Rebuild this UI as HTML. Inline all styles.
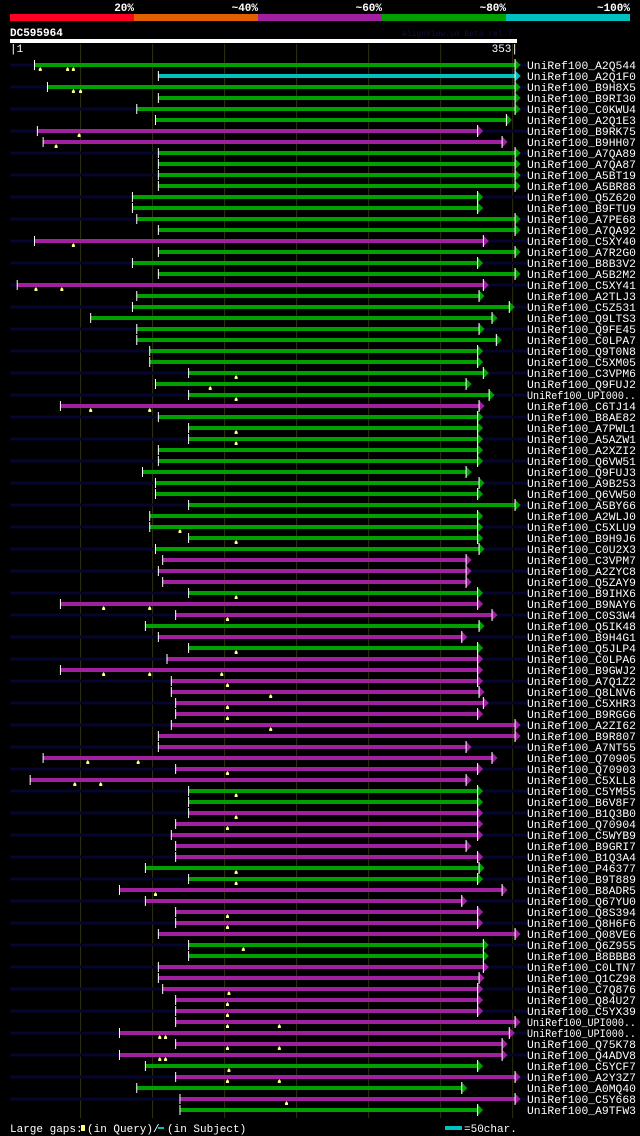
<!DOCTYPE html>
<html><head><meta charset="utf-8"><style>
html,body{margin:0;padding:0;background:#000;}
svg{display:block;}
text{font-family:"Liberation Mono","DejaVu Sans Mono",monospace;fill:#fff;}
</style></head>
<body>
<svg id="chart" width="640" height="1136" viewBox="0 0 640 1136" xmlns="http://www.w3.org/2000/svg">
<rect x="0" y="0" width="640" height="1136" fill="#000"/>
<g id="header">
<rect x="10" y="14" width="124" height="7" fill="#ff0020"/>
<rect x="134" y="14" width="124" height="7" fill="#e06000"/>
<rect x="258" y="14" width="124" height="7" fill="#a020a0"/>
<rect x="382" y="14" width="124" height="7" fill="#00a000"/>
<rect x="506" y="14" width="124" height="7" fill="#00c0c0"/>
<text x="134" y="11" font-size="11" font-weight="bold" text-anchor="end">20%</text>
<text x="258" y="11" font-size="11" font-weight="bold" text-anchor="end">~40%</text>
<text x="382" y="11" font-size="11" font-weight="bold" text-anchor="end">~60%</text>
<text x="506" y="11" font-size="11" font-weight="bold" text-anchor="end">~80%</text>
<text x="630" y="11" font-size="11" font-weight="bold" text-anchor="end">~100%</text>
</g>
<text x="10" y="36" font-size="11" font-weight="bold">DC595964</text>
<text x="402" y="36" font-size="8" style="fill:#101040">AlignView.pm Beta rel.7</text>
<rect x="10" y="39" width="507" height="4" fill="#fff"/>
<text x="10" y="52" font-size="11">|1</text>
<text x="518" y="52" font-size="11" text-anchor="end">353|</text>
<g id="grid"></g>
<g id="rows"></g>
<g>
<text x="10" y="1132" font-size="11">Large gaps:</text>
<rect x="81" y="1125" width="4" height="6" fill="#ffff80"/>
<text x="87" y="1132" font-size="11">(in Query)/</text>
<rect x="158" y="1127" width="6" height="2" fill="#00c0c0"/>
<text x="167" y="1132" font-size="11">(in Subject)</text>
<rect x="445" y="1126" width="17" height="4" fill="#00c0c0"/>
<text x="464" y="1132" font-size="11">=50char.</text>
</g>
</svg>
<script>
const queryLength = 353;
const gridTicks = [50,100,150,200,250,300,350];
const names = ["A2Q544","A2Q1F0","B9H8X5","B9RI30","C0KWU4","A2Q1E3","B9RK75","B9HH07","A7QA89","A7QA87","A5BT19","A5BR88","Q5Z620","B9FTU9","A7PE68","A7QA92","C5XY40","A7R2G0","B8B3V2","A5B2M2","C5XY41","A2TLJ3","C5Z531","Q9LTS3","Q9FE45","C0LPA7","Q9T0N8","C5XM05","C3VPM6","Q9FUJ2","UPI000..","C6TJ14","B8AE82","A7PWL1","A5AZW1","A2XZI2","Q6VW51","Q9FUJ3","A9B253","Q6VW50","A5BY66","A2WLJ0","C5XLU9","B9H9J6","C0U2X3","C3VPM7","A2ZYC8","Q5ZAY9","B9IHX6","B9NAY6","C0S3W4","Q5IK48","B9H4G1","Q5JLP4","C0LPA6","B9GWJ2","A7Q1Z2","Q8LNV6","C5XHR3","B9RGG6","A2ZI62","B9R807","A7NT55","Q70905","Q70903","C5XLL8","C5YM55","B6V8F7","B1Q3B0","Q70904","C5WYB9","B9GRI7","B1Q3A4","P46377","B9T889","B8ADR5","Q67YU0","Q8S394","Q8H6F6","Q08VE6","Q6Z955","B8BBB8","C0LTN7","Q1CZ98","C7Q876","Q84U27","C5YX39","UPI000..","UPI000..","Q75K78","Q4ADV8","C5YCF7","A2Y3Z7","A0MQ40","C5Y668","A9TFW3"];
const starts = [18,104,27,104,89,102,20,24,104,104,104,104,86,86,89,104,18,104,86,104,6,89,86,57,89,89,98,98,125,102,125,36,104,125,125,104,104,93,102,102,125,98,98,125,102,107,104,107,125,36,116,95,104,125,110,36,113,113,116,116,113,104,104,24,116,15,125,125,125,116,113,116,116,95,125,77,95,116,116,104,125,125,104,104,107,116,116,116,77,116,77,95,116,89,119,119];
const ends = [352,352,352,352,352,346,326,343,352,352,352,352,326,326,352,352,330,352,326,352,330,327,348,336,327,339,326,326,330,318,334,327,326,326,326,326,326,318,327,326,352,326,326,326,327,318,318,318,326,326,336,327,315,326,326,326,326,327,330,326,352,352,318,336,326,318,326,326,326,326,326,318,326,327,326,343,315,326,326,352,330,330,330,327,326,326,326,352,348,343,343,326,352,315,352,326];
const identity = ["g","c","g","g","g","g","m","m","g","g","g","g","g","g","g","g","m","g","g","g","m","g","g","g","g","g","g","g","g","g","g","m","g","g","g","g","g","g","g","g","g","g","g","g","g","m","m","m","g","m","m","g","m","g","m","m","m","m","m","m","m","m","m","m","m","m","g","g","m","m","m","m","m","g","g","m","m","m","m","m","g","g","m","m","m","m","m","m","m","m","m","g","m","g","m","g"];
const queryGaps = [[22,41,45],[],[45,50],[],[],[],[49],[33],[],[],[],[],[],[],[],[],[45],[],[],[],[19,37],[],[],[],[],[],[],[],[158],[140],[158],[57,98],[],[158],[158],[],[],[],[],[],[],[],[119],[158],[],[],[],[],[158],[66,98],[152],[],[],[158],[],[66,98,148],[152],[182],[152],[152],[182],[],[],[55,90],[152],[46,64],[158],[],[158],[152],[],[],[],[158],[158],[102],[],[152],[152],[],[163],[],[],[],[153],[152],[152],[152,188],[105,109],[152,188],[105,109],[153],[152,188],[],[193],[]];
const colorMap = {g:"#00a000", m:"#a020a0", c:"#00c0c0"};

const x0 = 10, x1 = 517;
function xScale(p){ return x0 + (p - 1) * (x1 - x0) / (queryLength - 1); }
function yRow(i){ return 65 + i * 11; }
const NS = "http://www.w3.org/2000/svg";
function mk(tag, attrs, parent){
  const e = document.createElementNS(NS, tag);
  for (const k in attrs) e.setAttribute(k, attrs[k]);
  parent.appendChild(e);
  return e;
}
const grid = document.getElementById("grid");
gridTicks.forEach(t => {
  const l = mk("line", {x1: xScale(t), x2: xScale(t), y1: 44, y2: 1118, stroke: "#303010", "stroke-width": 1}, grid);
  
  
});
const rows = document.getElementById("rows");
names.forEach((n, i) => {
  const y = yRow(i);
  const g = mk("g", {}, rows);
  
  
  if (i % 2 === 0) {
    const bg = mk("rect", {x: 10, y: y - 1.5, width: 517, height: 3, fill: "#05052e"}, g);
    
    
  }
  const col = colorMap[identity[i]];
  const sx = xScale(starts[i]), ex = xScale(ends[i]);
  const bar = mk("rect", {x: sx, y: y - 2, width: ex - sx, height: 4, fill: col}, g);
  
  
  const tick = mk("rect", {x: sx - 0.5, y: y - 5, width: 1, height: 10, fill: "#fff"}, g);
  
  
  const tri = mk("polygon", {points: `${ex-1},${y-6} ${ex+5},${y} ${ex-1},${y+6}`, fill: col}, g);
  
  
  const triEdge = mk("rect", {x: ex - 1, y: y - 6, width: 1, height: 12, fill: "#fff"}, g);
  
  
  queryGaps[i].forEach(p => {
    const gx = xScale(p);
    const m = mk("polygon", {points: `${gx},${y+2} ${gx+1.5},${y+4} ${gx+1.5},${y+6} ${gx-1.5},${y+6} ${gx-1.5},${y+4}`, fill: "#ffff80"}, g);
    
    
  });
  const label = "UniRef100_" + n;
  const t = mk("text", {x: 527, y: y + 4, "font-size": 11, textLength: 109, lengthAdjust: "spacingAndGlyphs"}, g);
  t.textContent = label;
  
  
});
</script>
</body></html>
